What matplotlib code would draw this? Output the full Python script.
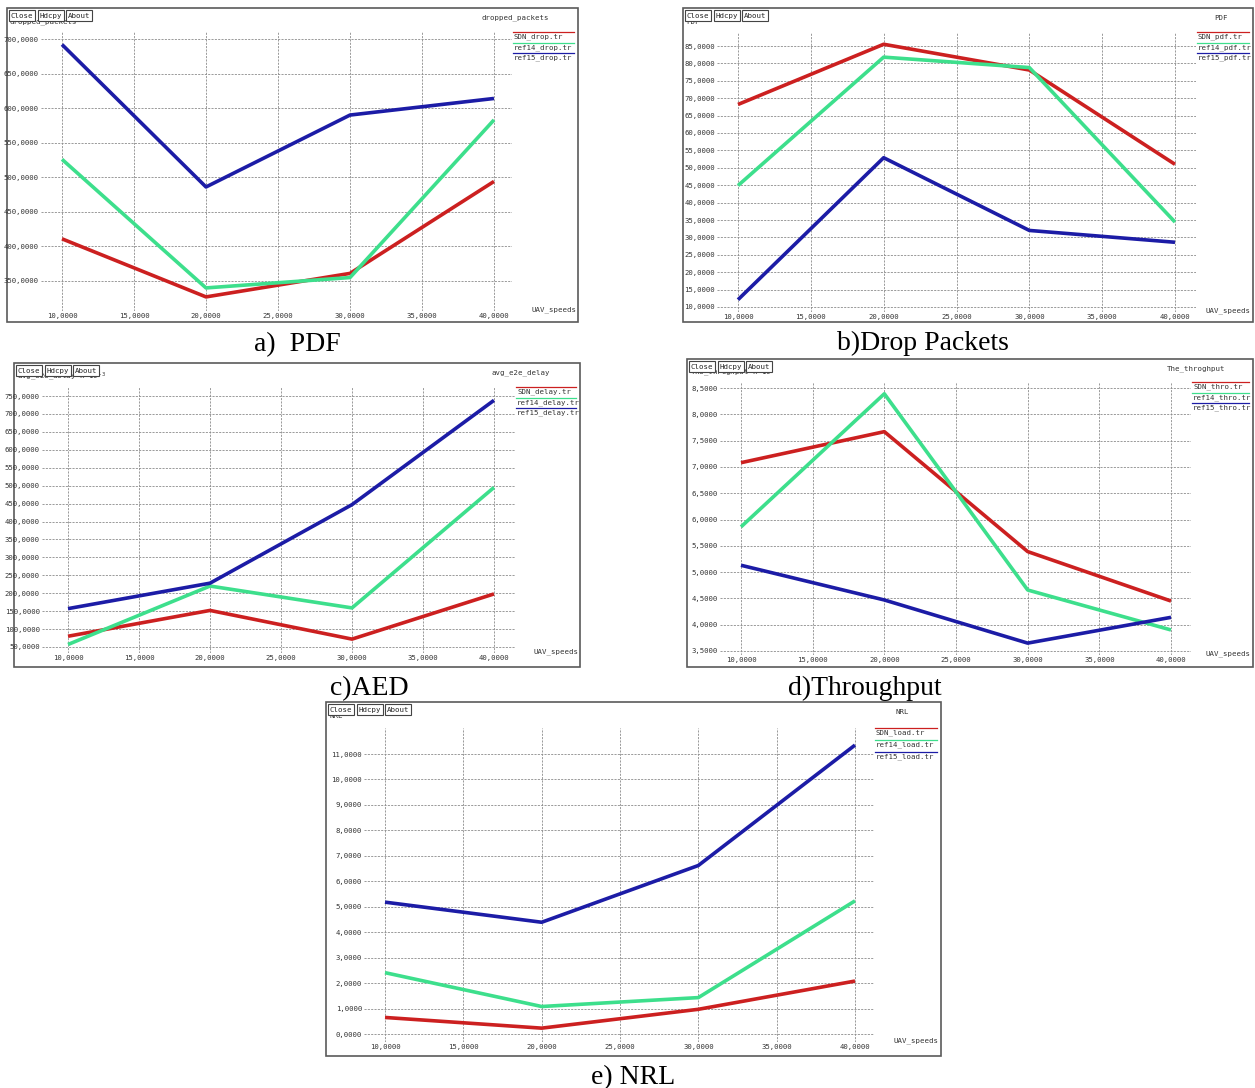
import matplotlib.pyplot as plt
from matplotlib.patches import Rectangle
from matplotlib.ticker import FixedLocator, FuncFormatter

W, H = 1255, 1088
MONO = 'DejaVu Sans Mono'

# x axis: UAV speeds
speeds = [10, 20, 30, 40]
speed_ticks = [10, 15, 20, 25, 30, 35, 40]

# a) dropped packets
drop_sdn = [411, 327, 361, 494]
drop_ref14 = [526, 340, 355, 583]
drop_ref15 = [692, 486, 590, 614]
drop_ticks = [350, 400, 450, 500, 550, 600, 650, 700]

# b) packet delivery fraction
pdf_sdn = [68.2, 85.5, 78.1, 51.0]
pdf_ref14 = [44.9, 81.8, 78.8, 34.4]
pdf_ref15 = [12.1, 52.9, 32.0, 28.6]
pdf_ticks = [10, 15, 20, 25, 30, 35, 40, 45, 50, 55, 60, 65, 70, 75, 80, 85]

# c) average end to end delay
delay_sdn = [80, 152, 72, 198]
delay_ref14 = [57, 220, 159, 495]
delay_ref15 = [157, 228, 447, 738]
delay_ticks = [50, 100, 150, 200, 250, 300, 350, 400, 450, 500, 550, 600, 650, 700, 750]

# d) throughput
thr_sdn = [7.08, 7.67, 5.39, 4.45]
thr_ref14 = [5.86, 8.39, 4.66, 3.90]
thr_ref15 = [5.13, 4.47, 3.65, 4.14]
thr_ticks = [3.5, 4.0, 4.5, 5.0, 5.5, 6.0, 6.5, 7.0, 7.5, 8.0, 8.5]

# e) normalized routing load
nrl_sdn = [0.65, 0.23, 0.97, 2.08]
nrl_ref14 = [2.41, 1.08, 1.43, 5.23]
nrl_ref15 = [5.18, 4.39, 6.62, 11.35]
nrl_ticks = [0, 1, 2, 3, 4, 5, 6, 7, 8, 9, 10, 11]

COLORS = ['#cc2020', '#3ddf8c', '#1c1ca6']

fig = plt.figure(figsize=(W / 100, H / 100), dpi=100)
bg = fig.add_axes([0, 0, 1, 1])
bg.set_xlim(0, W)
bg.set_ylim(H, 0)
bg.axis('off')


def box(x0, y0, x1, y1):
    return [x0 / W, 1 - y1 / H, (x1 - x0) / W, (y1 - y0) / H]


def comma(v, pos):
    return f'{v:.4f}'.replace('.', ',')


def panel(frame, grid, xcal, ycal, yticks, ylabel, title, title_x, names, series,
          caption, cap_xy, leg_step=10.5):
    fx0, fy0, fx1, fy1 = frame
    gx0, gy0, gx1, gy1 = grid
    bg.add_patch(Rectangle((fx0, fy0), fx1 - fx0, fy1 - fy0, fill=False,
                           ec='#5a5a5a', lw=1.2, zorder=1))

    # y label under the buttons, then the buttons
    bg.text(fx0 + 3, fy0 + 14, ylabel, fontsize=5.3, family=MONO, color='#333',
            va='center', ha='left', zorder=2)
    bx = fx0 + 2
    for b in ['Close', 'Hdcpy', 'About']:
        bg.add_patch(Rectangle((bx, fy0 + 2), 26, 11, fc='white', ec='#444',
                               lw=0.8, zorder=3))
        bg.text(bx + 13, fy0 + 7.7, b, fontsize=5.3, family=MONO, color='#222',
                ha='center', va='center', zorder=4)
        bx += 28.5

    bg.text(title_x, fy0 + 10, title, fontsize=5.3, family=MONO, color='#333',
            ha='center', va='center')
    bg.text(fx1 - 2, gy1 - 1, 'UAV_speeds', fontsize=5.3, family=MONO,
            color='#333', ha='right', va='center')

    # legend: coloured line above each file name
    for i, (name, c) in enumerate(zip(names, COLORS)):
        ly = gy0 + i * leg_step
        bg.plot([gx1 + 1, fx1 - 4], [ly, ly], color=c, lw=0.9)
        bg.text(gx1 + 2, ly + 5, name, fontsize=5.3, family=MONO, color='#333',
                ha='left', va='center')

    # data axes: limits from tick calibration in pixels
    px10, px40 = xcal
    (vt, pt), (vb, pb) = ycal
    xv = lambda p: 10 + (p - px10) * 30 / (px40 - px10)
    yv = lambda p: vb + (p - pb) * (vt - vb) / (pt - pb)
    ax = fig.add_axes(box(*grid))
    ax.set_xlim(xv(gx0), xv(gx1))
    ax.set_ylim(yv(gy1), yv(gy0))
    ax.patch.set_visible(False)
    for s in ax.spines.values():
        s.set_visible(False)
    ax.xaxis.set_major_locator(FixedLocator(speed_ticks))
    ax.yaxis.set_major_locator(FixedLocator(yticks))
    ax.xaxis.set_major_formatter(FuncFormatter(comma))
    ax.yaxis.set_major_formatter(FuncFormatter(comma))
    ax.tick_params(length=0, labelsize=5.2, labelcolor='#333', pad=1.5)
    for lab in ax.get_xticklabels() + ax.get_yticklabels():
        lab.set_family(MONO)
    ax.grid(True, color='#8a8a8a', lw=0.6, ls=(0, (2.5, 1.5)))
    ax.set_axisbelow(True)
    for ys, c in zip(series, COLORS):
        ax.plot(speeds, ys, color=c, lw=2.6, solid_capstyle='butt')

    bg.text(cap_xy[0], cap_xy[1], caption, fontsize=20, family='Liberation Serif',
            color='black', ha='center', va='baseline')


panel((7, 8, 578, 322), (41, 32, 512, 311), (62, 494), ((700, 39), (350, 281)),
      drop_ticks, 'dropped_packets', 'dropped_packets', 515,
      ['SDN_drop.tr', 'ref14_drop.tr', 'ref15_drop.tr'],
      [drop_sdn, drop_ref14, drop_ref15], 'a)  PDF', (297, 351))

panel((683, 8, 1253, 322), (717, 32, 1196, 312), (738, 1175), ((85, 46), (10, 307)),
      pdf_ticks, 'PDF', 'PDF', 1221,
      ['SDN_pdf.tr', 'ref14_pdf.tr', 'ref15_pdf.tr'],
      [pdf_sdn, pdf_ref14, pdf_ref15], 'b)Drop Packets', (923, 350))

panel((14, 363, 580, 667), (42, 387, 515, 653), (68, 494), ((750, 396), (50, 647)),
      delay_ticks, r'avg_e2e_delay x 10$^{-3}$', 'avg_e2e_delay', 521,
      ['SDN_delay.tr', 'ref14_delay.tr', 'ref15_delay.tr'],
      [delay_sdn, delay_ref14, delay_ref15], 'c)AED', (369, 695))

panel((687, 359, 1253, 667), (720, 382, 1191, 655), (741, 1171), ((8.5, 388), (3.5, 651)),
      thr_ticks, r'The_throghput x 10$^{3}$', 'The_throghput', 1196,
      ['SDN_thro.tr', 'ref14_thro.tr', 'ref15_thro.tr'],
      [thr_sdn, thr_ref14, thr_ref15], 'd)Throughput', (865, 695))

panel((326, 702, 941, 1056), (364, 728, 874, 1042), (385, 855), ((11, 754), (0, 1034)),
      nrl_ticks, 'NRL', 'NRL', 902,
      ['SDN_load.tr', 'ref14_load.tr', 'ref15_load.tr'],
      [nrl_sdn, nrl_ref14, nrl_ref15], 'e) NRL', (633, 1084), leg_step=12)

fig.savefig('out.png', dpi=100)
